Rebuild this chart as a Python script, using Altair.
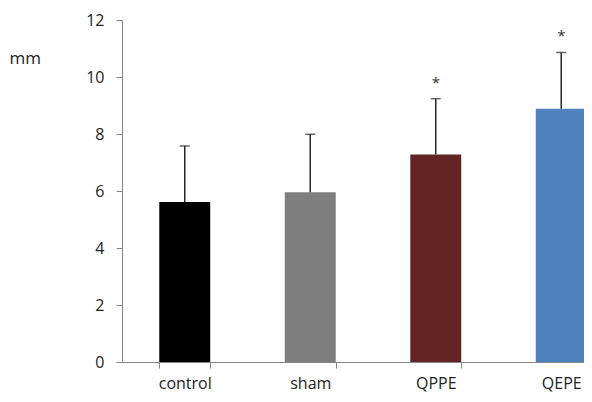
import altair as alt
import pandas as pd

categories = ["control", "sham", "QPPE", "QEPE"]
means = [5.61, 5.96, 7.28, 8.89]
err_tops = [7.58, 7.99, 9.24, 10.86]
colors = ["#000000", "#7f7f7f", "#632523", "#4f81bd"]
stars = ["", "", "*", "*"]
y_ticks = [0, 2, 4, 6, 8, 10, 12]

df = pd.DataFrame({"cat": categories, "mean": means, "top": err_tops,
                   "color": colors, "star": stars})

FONT = "Open Sans"

xenc = alt.X("cat:N", sort=categories,
             scale=alt.Scale(range=[0, 502], paddingInner=0.594, paddingOuter=0.297),
             axis=alt.Axis(title=None, labelAngle=0, tickBand="extent", tickSize=6,
                           labelPadding=20, labelFontSize=16, labelFont=FONT,
                           labelColor="#222222", domainColor="#868686",
                           tickColor="#868686", labelBaseline="alphabetic"))

yscale = alt.Scale(domain=[0, 12])

bars = alt.Chart(df).mark_bar().encode(
    x=xenc,
    y=alt.Y("mean:Q", scale=yscale,
            axis=alt.Axis(values=y_ticks, title="mm", titleAngle=0, titleAlign="left",
                          titleBaseline="middle", titleX=-113, titleY=38,
                          titleFont=FONT, titleFontSize=17, titleFontWeight="normal",
                          titleColor="#222222", grid=False, tickSize=6,
                          labelPadding=12, labelFontSize=16, labelFont=FONT,
                          labelColor="#222222", domainColor="#868686",
                          tickColor="#868686")),
    color=alt.Color("color:N", scale=None),
)

rules = alt.Chart(df).mark_rule(color="#262626", strokeWidth=1.5).encode(
    x=alt.X("cat:N", sort=categories),
    y=alt.Y("mean:Q", scale=yscale),
    y2="top:Q",
)

caps = alt.Chart(df).mark_tick(color="#262626", thickness=1.5, size=10).encode(
    x=alt.X("cat:N", sort=categories),
    y=alt.Y("top:Q", scale=yscale),
)

star_text = alt.Chart(df).mark_text(fontSize=15, font=FONT, color="#333333",
                                    baseline="middle", dy=-16).encode(
    x=alt.X("cat:N", sort=categories),
    y=alt.Y("top:Q", scale=yscale),
    text="star:N",
)

chart = alt.layer(bars, rules, caps, star_text).properties(
    width=462, height=342,
    autosize=alt.AutoSizeParams(type="none"),
    padding={"left": 114, "top": 12, "right": 0, "bottom": 32},
).configure_view(stroke=None)

chart.save("out.html", embed_options={"renderer": "svg", "actions": False})
